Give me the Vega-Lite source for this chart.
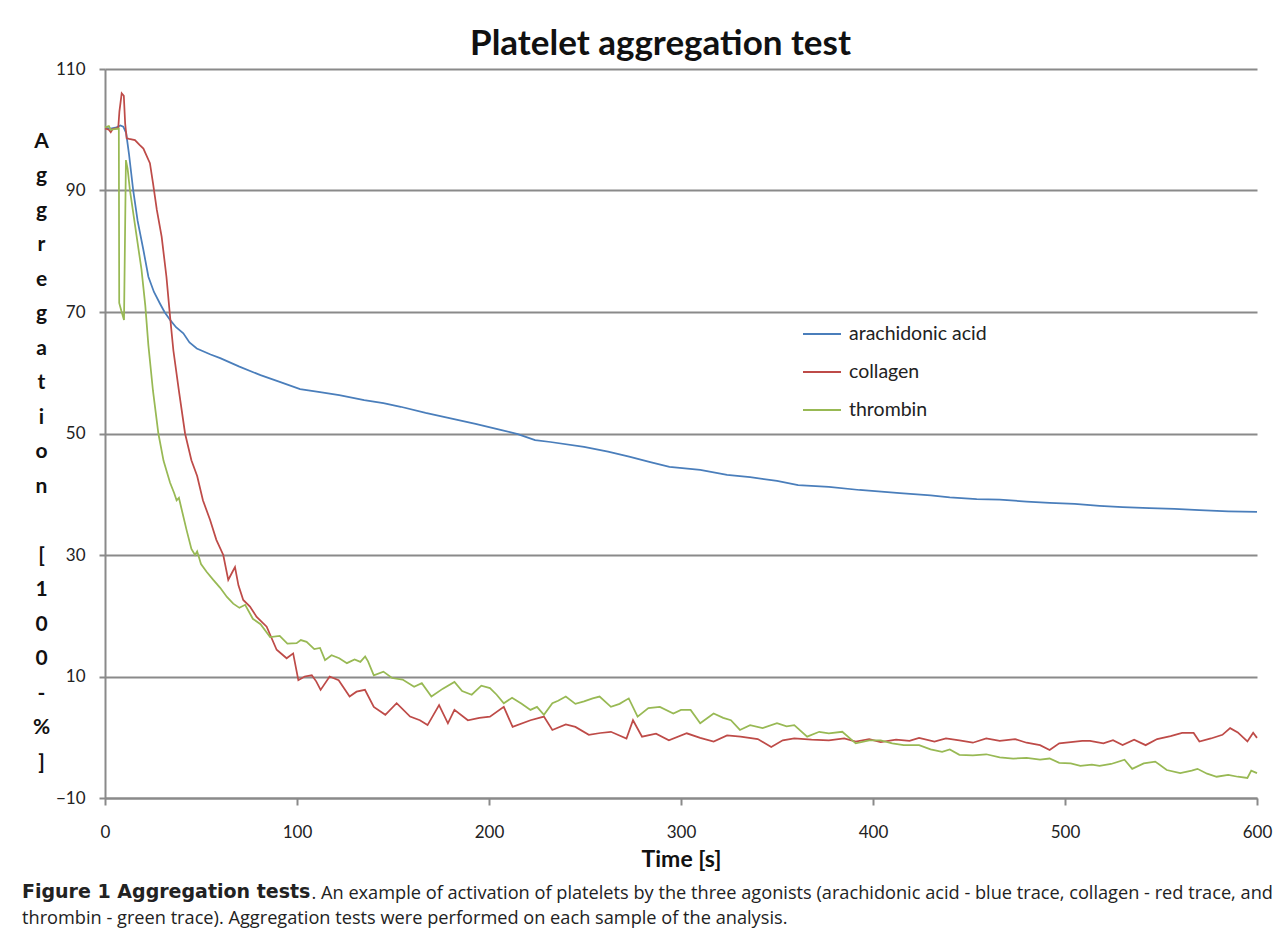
{
"$schema": "https://vega.github.io/schema/vega-lite/v6.json",
"width": 1152, "height": 729,
"autosize": {"type": "none"},
"padding": {"left": 105, "top": 69, "right": 25, "bottom": 141},
"background": "white",
"config": {"view": {"stroke": null}, "font": "Lato"},
"title": {"text": "Figure 1 Aggregation tests", "subtitle": "thrombin - green trace). Aggregation tests were performed on each sample of the analysis.", "orient": "bottom", "anchor": "start", "frame": "group", "dx": -83, "offset": -18, "baseline": "top", "font": "DejaVu Sans", "fontSize": 19, "fontWeight": "bold", "color": "#222", "subtitleFont": "Open Sans", "subtitleFontSize": 18.2, "subtitleFontWeight": "normal", "subtitleColor": "#222", "subtitlePadding": 8, "limit": 2000},
"datasets": {"traces": [
{"s":"arachidonic acid","t":0,"v":100.3},{"s":"arachidonic acid","t":3,"v":100.2},{"s":"arachidonic acid","t":6,"v":100.4},{"s":"arachidonic acid","t":8,"v":100.7},{"s":"arachidonic acid","t":9.5,"v":100.5},{"s":"arachidonic acid","t":11,"v":99.5},{"s":"arachidonic acid","t":12.5,"v":96},{"s":"arachidonic acid","t":14.7,"v":90},{"s":"arachidonic acid","t":17,"v":85},{"s":"arachidonic acid","t":20,"v":80.2},{"s":"arachidonic acid","t":22.6,"v":75.8},{"s":"arachidonic acid","t":25.5,"v":73.3},{"s":"arachidonic acid","t":28.6,"v":71.4},{"s":"arachidonic acid","t":31,"v":70},{"s":"arachidonic acid","t":33.9,"v":68.7},{"s":"arachidonic acid","t":37,"v":67.5},{"s":"arachidonic acid","t":40.8,"v":66.5},{"s":"arachidonic acid","t":44,"v":65},{"s":"arachidonic acid","t":47.8,"v":64},{"s":"arachidonic acid","t":55,"v":63},{"s":"arachidonic acid","t":60,"v":62.4},{"s":"arachidonic acid","t":70,"v":61},{"s":"arachidonic acid","t":81,"v":59.6},{"s":"arachidonic acid","t":91,"v":58.5},{"s":"arachidonic acid","t":101.6,"v":57.3},{"s":"arachidonic acid","t":112,"v":56.8},{"s":"arachidonic acid","t":122,"v":56.3},{"s":"arachidonic acid","t":135,"v":55.5},{"s":"arachidonic acid","t":145,"v":55},{"s":"arachidonic acid","t":154,"v":54.4},{"s":"arachidonic acid","t":167,"v":53.4},{"s":"arachidonic acid","t":180,"v":52.5},{"s":"arachidonic acid","t":193,"v":51.6},{"s":"arachidonic acid","t":206,"v":50.6},{"s":"arachidonic acid","t":215,"v":49.9},{"s":"arachidonic acid","t":224,"v":48.9},{"s":"arachidonic acid","t":232,"v":48.6},{"s":"arachidonic acid","t":249.5,"v":47.8},{"s":"arachidonic acid","t":262,"v":47},{"s":"arachidonic acid","t":273,"v":46.2},{"s":"arachidonic acid","t":284,"v":45.3},{"s":"arachidonic acid","t":294,"v":44.5},{"s":"arachidonic acid","t":310,"v":44},{"s":"arachidonic acid","t":324,"v":43.2},{"s":"arachidonic acid","t":336,"v":42.8},{"s":"arachidonic acid","t":350,"v":42.2},{"s":"arachidonic acid","t":361,"v":41.5},{"s":"arachidonic acid","t":377,"v":41.2},{"s":"arachidonic acid","t":393,"v":40.7},{"s":"arachidonic acid","t":414,"v":40.2},{"s":"arachidonic acid","t":430,"v":39.8},{"s":"arachidonic acid","t":440,"v":39.5},{"s":"arachidonic acid","t":454,"v":39.2},{"s":"arachidonic acid","t":466,"v":39.1},{"s":"arachidonic acid","t":480,"v":38.8},{"s":"arachidonic acid","t":492,"v":38.6},{"s":"arachidonic acid","t":505,"v":38.4},{"s":"arachidonic acid","t":518,"v":38.1},{"s":"arachidonic acid","t":530,"v":37.9},{"s":"arachidonic acid","t":544,"v":37.7},{"s":"arachidonic acid","t":557,"v":37.6},{"s":"arachidonic acid","t":570,"v":37.4},{"s":"arachidonic acid","t":585,"v":37.2},{"s":"arachidonic acid","t":600,"v":37.1},
{"s":"collagen","t":0,"v":100.2},{"s":"collagen","t":2,"v":100},{"s":"collagen","t":3,"v":99.6},{"s":"collagen","t":4,"v":100.1},{"s":"collagen","t":6.9,"v":100.3},{"s":"collagen","t":7.5,"v":103},{"s":"collagen","t":8.7,"v":106},{"s":"collagen","t":9.8,"v":105.6},{"s":"collagen","t":10.5,"v":101},{"s":"collagen","t":11.3,"v":98.6},{"s":"collagen","t":12.6,"v":98.5},{"s":"collagen","t":15.6,"v":98.3},{"s":"collagen","t":18,"v":97.5},{"s":"collagen","t":20,"v":96.9},{"s":"collagen","t":23.4,"v":94.5},{"s":"collagen","t":25,"v":91.2},{"s":"collagen","t":27,"v":86.8},{"s":"collagen","t":29.5,"v":82.4},{"s":"collagen","t":32,"v":75.8},{"s":"collagen","t":33.9,"v":69.2},{"s":"collagen","t":35.6,"v":63.7},{"s":"collagen","t":38.5,"v":57},{"s":"collagen","t":41.7,"v":50},{"s":"collagen","t":45,"v":45.6},{"s":"collagen","t":48,"v":43},{"s":"collagen","t":51,"v":39},{"s":"collagen","t":54.7,"v":35.8},{"s":"collagen","t":58,"v":32.5},{"s":"collagen","t":61.6,"v":30},{"s":"collagen","t":64.2,"v":25.9},{"s":"collagen","t":66,"v":27},{"s":"collagen","t":67.7,"v":28},{"s":"collagen","t":69.5,"v":25},{"s":"collagen","t":72,"v":22.6},{"s":"collagen","t":75.5,"v":21.5},{"s":"collagen","t":79,"v":19.8},{"s":"collagen","t":84.2,"v":18.2},{"s":"collagen","t":89.4,"v":14.4},{"s":"collagen","t":94.6,"v":13},{"s":"collagen","t":98,"v":13.8},{"s":"collagen","t":100.7,"v":9.4},{"s":"collagen","t":104,"v":10},{"s":"collagen","t":107.7,"v":10.2},{"s":"collagen","t":110,"v":9.2},{"s":"collagen","t":112.3,"v":7.8},{"s":"collagen","t":117,"v":10},{"s":"collagen","t":121.7,"v":9.4},{"s":"collagen","t":127.4,"v":6.7},{"s":"collagen","t":131,"v":7.5},{"s":"collagen","t":135.4,"v":7.8},{"s":"collagen","t":140,"v":5},{"s":"collagen","t":146,"v":3.7},{"s":"collagen","t":151.9,"v":5.6},{"s":"collagen","t":158.9,"v":3.4},{"s":"collagen","t":164,"v":2.8},{"s":"collagen","t":168,"v":2},{"s":"collagen","t":174,"v":5.3},{"s":"collagen","t":178.6,"v":2.3},{"s":"collagen","t":182,"v":4.5},{"s":"collagen","t":189,"v":2.8},{"s":"collagen","t":195,"v":3.2},{"s":"collagen","t":200.5,"v":3.4},{"s":"collagen","t":207.7,"v":5},{"s":"collagen","t":212.3,"v":1.7},{"s":"collagen","t":221.6,"v":2.8},{"s":"collagen","t":228.6,"v":3.4},{"s":"collagen","t":233,"v":1.2},{"s":"collagen","t":240,"v":2.1},{"s":"collagen","t":245,"v":1.7},{"s":"collagen","t":252,"v":0.4},{"s":"collagen","t":258,"v":0.7},{"s":"collagen","t":263.5,"v":0.9},{"s":"collagen","t":271.6,"v":-0.2},{"s":"collagen","t":275,"v":2.8},{"s":"collagen","t":279.7,"v":0.1},{"s":"collagen","t":287,"v":0.6},{"s":"collagen","t":293.7,"v":-0.5},{"s":"collagen","t":303,"v":0.65},{"s":"collagen","t":310,"v":-0.1},{"s":"collagen","t":317,"v":-0.7},{"s":"collagen","t":324,"v":0.3},{"s":"collagen","t":331,"v":0.1},{"s":"collagen","t":340,"v":-0.3},{"s":"collagen","t":347,"v":-1.6},{"s":"collagen","t":353,"v":-0.5},{"s":"collagen","t":359,"v":-0.2},{"s":"collagen","t":368,"v":-0.4},{"s":"collagen","t":377,"v":-0.5},{"s":"collagen","t":385,"v":-0.2},{"s":"collagen","t":391,"v":-0.7},{"s":"collagen","t":398,"v":-0.3},{"s":"collagen","t":404,"v":-0.8},{"s":"collagen","t":412,"v":-0.4},{"s":"collagen","t":419,"v":-0.6},{"s":"collagen","t":424,"v":-0.1},{"s":"collagen","t":432,"v":-0.7},{"s":"collagen","t":438,"v":-0.2},{"s":"collagen","t":445,"v":-0.5},{"s":"collagen","t":452,"v":-0.9},{"s":"collagen","t":459,"v":-0.2},{"s":"collagen","t":466,"v":-0.6},{"s":"collagen","t":474,"v":-0.3},{"s":"collagen","t":480,"v":-0.9},{"s":"collagen","t":487,"v":-1.3},{"s":"collagen","t":492,"v":-2.1},{"s":"collagen","t":497,"v":-1},{"s":"collagen","t":503,"v":-0.8},{"s":"collagen","t":509,"v":-0.6},{"s":"collagen","t":513,"v":-0.6},{"s":"collagen","t":520,"v":-1},{"s":"collagen","t":525,"v":-0.5},{"s":"collagen","t":530,"v":-1.3},{"s":"collagen","t":536,"v":-0.4},{"s":"collagen","t":542,"v":-1.3},{"s":"collagen","t":548,"v":-0.3},{"s":"collagen","t":555,"v":0.2},{"s":"collagen","t":561,"v":0.7},{"s":"collagen","t":567,"v":0.7},{"s":"collagen","t":570,"v":-0.7},{"s":"collagen","t":576,"v":-0.2},{"s":"collagen","t":582,"v":0.4},{"s":"collagen","t":586,"v":1.5},{"s":"collagen","t":590,"v":0.8},{"s":"collagen","t":595,"v":-0.7},{"s":"collagen","t":598,"v":0.75},{"s":"collagen","t":600,"v":-0.1},
{"s":"thrombin","t":0,"v":100.4},{"s":"thrombin","t":2,"v":100.6},{"s":"thrombin","t":3,"v":100},{"s":"thrombin","t":5,"v":100.1},{"s":"thrombin","t":7.2,"v":100.2},{"s":"thrombin","t":7.4,"v":71.5},{"s":"thrombin","t":8.5,"v":70.2},{"s":"thrombin","t":9.9,"v":68.7},{"s":"thrombin","t":10.9,"v":95},{"s":"thrombin","t":11.8,"v":93.5},{"s":"thrombin","t":13,"v":90},{"s":"thrombin","t":16.5,"v":82.4},{"s":"thrombin","t":19,"v":77},{"s":"thrombin","t":21,"v":71},{"s":"thrombin","t":22.6,"v":64.5},{"s":"thrombin","t":25,"v":57},{"s":"thrombin","t":27.8,"v":50},{"s":"thrombin","t":30.5,"v":45.5},{"s":"thrombin","t":33.9,"v":41.9},{"s":"thrombin","t":36,"v":40.2},{"s":"thrombin","t":37.3,"v":39},{"s":"thrombin","t":38.5,"v":39.4},{"s":"thrombin","t":40,"v":37.4},{"s":"thrombin","t":42.5,"v":34.1},{"s":"thrombin","t":45,"v":31},{"s":"thrombin","t":46.9,"v":30},{"s":"thrombin","t":48,"v":30.6},{"s":"thrombin","t":50,"v":28.5},{"s":"thrombin","t":53,"v":27.2},{"s":"thrombin","t":56.4,"v":25.9},{"s":"thrombin","t":60,"v":24.6},{"s":"thrombin","t":63.5,"v":23.1},{"s":"thrombin","t":66.8,"v":22},{"s":"thrombin","t":70,"v":21.3},{"s":"thrombin","t":73,"v":21.8},{"s":"thrombin","t":77,"v":19.5},{"s":"thrombin","t":81,"v":18.6},{"s":"thrombin","t":86,"v":16.5},{"s":"thrombin","t":91,"v":16.7},{"s":"thrombin","t":95,"v":15.4},{"s":"thrombin","t":99.8,"v":15.5},{"s":"thrombin","t":102,"v":16},{"s":"thrombin","t":105,"v":15.7},{"s":"thrombin","t":109,"v":14.5},{"s":"thrombin","t":112,"v":14.7},{"s":"thrombin","t":114.6,"v":12.7},{"s":"thrombin","t":118,"v":13.5},{"s":"thrombin","t":122,"v":13},{"s":"thrombin","t":126,"v":12.2},{"s":"thrombin","t":130,"v":12.8},{"s":"thrombin","t":133,"v":12.4},{"s":"thrombin","t":135.5,"v":13.3},{"s":"thrombin","t":137,"v":12.5},{"s":"thrombin","t":140,"v":10.2},{"s":"thrombin","t":145,"v":10.8},{"s":"thrombin","t":149.5,"v":9.75},{"s":"thrombin","t":155,"v":9.5},{"s":"thrombin","t":161,"v":8.3},{"s":"thrombin","t":165,"v":8.9},{"s":"thrombin","t":170,"v":6.7},{"s":"thrombin","t":176,"v":8},{"s":"thrombin","t":182,"v":9.1},{"s":"thrombin","t":186,"v":7.6},{"s":"thrombin","t":191,"v":7},{"s":"thrombin","t":196,"v":8.5},{"s":"thrombin","t":200.5,"v":8.1},{"s":"thrombin","t":204,"v":7},{"s":"thrombin","t":207.7,"v":5.6},{"s":"thrombin","t":212,"v":6.5},{"s":"thrombin","t":217,"v":5.5},{"s":"thrombin","t":221.6,"v":4.5},{"s":"thrombin","t":225,"v":5},{"s":"thrombin","t":228.6,"v":3.7},{"s":"thrombin","t":233,"v":5.6},{"s":"thrombin","t":236,"v":6},{"s":"thrombin","t":240,"v":6.7},{"s":"thrombin","t":245,"v":5.5},{"s":"thrombin","t":249.5,"v":5.9},{"s":"thrombin","t":254,"v":6.4},{"s":"thrombin","t":257.6,"v":6.7},{"s":"thrombin","t":263.5,"v":5},{"s":"thrombin","t":268,"v":5.5},{"s":"thrombin","t":272.8,"v":6.4},{"s":"thrombin","t":277.4,"v":3.4},{"s":"thrombin","t":283,"v":4.8},{"s":"thrombin","t":289,"v":5},{"s":"thrombin","t":296,"v":3.9},{"s":"thrombin","t":300,"v":4.5},{"s":"thrombin","t":305,"v":4.5},{"s":"thrombin","t":310,"v":2.3},{"s":"thrombin","t":317,"v":3.9},{"s":"thrombin","t":322,"v":3.2},{"s":"thrombin","t":326,"v":2.8},{"s":"thrombin","t":330.7,"v":1.2},{"s":"thrombin","t":336,"v":2},{"s":"thrombin","t":342.5,"v":1.5},{"s":"thrombin","t":350,"v":2.3},{"s":"thrombin","t":355,"v":1.8},{"s":"thrombin","t":359,"v":2},{"s":"thrombin","t":365.7,"v":0.1},{"s":"thrombin","t":372,"v":0.9},{"s":"thrombin","t":377,"v":0.65},{"s":"thrombin","t":384,"v":0.9},{"s":"thrombin","t":391,"v":-1},{"s":"thrombin","t":398,"v":-0.5},{"s":"thrombin","t":404,"v":-0.5},{"s":"thrombin","t":410,"v":-1},{"s":"thrombin","t":416,"v":-1.3},{"s":"thrombin","t":424,"v":-1.3},{"s":"thrombin","t":430,"v":-2},{"s":"thrombin","t":436,"v":-2.4},{"s":"thrombin","t":440,"v":-2},{"s":"thrombin","t":445,"v":-2.9},{"s":"thrombin","t":452,"v":-3},{"s":"thrombin","t":459,"v":-2.8},{"s":"thrombin","t":466,"v":-3.3},{"s":"thrombin","t":473,"v":-3.5},{"s":"thrombin","t":480,"v":-3.4},{"s":"thrombin","t":487,"v":-3.7},{"s":"thrombin","t":492,"v":-3.5},{"s":"thrombin","t":497,"v":-4.2},{"s":"thrombin","t":503,"v":-4.3},{"s":"thrombin","t":508,"v":-4.7},{"s":"thrombin","t":514,"v":-4.5},{"s":"thrombin","t":518,"v":-4.7},{"s":"thrombin","t":524,"v":-4.4},{"s":"thrombin","t":531,"v":-3.7},{"s":"thrombin","t":535,"v":-5.2},{"s":"thrombin","t":541,"v":-4.3},{"s":"thrombin","t":547,"v":-4},{"s":"thrombin","t":553,"v":-5.4},{"s":"thrombin","t":560,"v":-5.9},{"s":"thrombin","t":566,"v":-5.5},{"s":"thrombin","t":569,"v":-5.2},{"s":"thrombin","t":574,"v":-6},{"s":"thrombin","t":579,"v":-6.5},{"s":"thrombin","t":585,"v":-6.2},{"s":"thrombin","t":590,"v":-6.5},{"s":"thrombin","t":595,"v":-6.7},{"s":"thrombin","t":597,"v":-5.5},{"s":"thrombin","t":600,"v":-5.9}
]},
"data": {"name": "traces"},
"layer": [
{
"transform": [{"filter": "datum.s === 'arachidonic acid'"}],
"mark": {"type": "line", "strokeWidth": 1.75},
"encoding": {
"x": {"field": "t", "type": "quantitative", "scale": {"domain": [0, 600], "nice": false},
"axis": {"orient": "bottom", "values": [0,100,200,300,400,500,600], "grid": false, "domainColor": "#8a8a8a", "domainWidth": 2, "tickColor": "#8a8a8a", "tickWidth": 2, "tickSize": 7, "labelFont": "Lato", "labelFontSize": 17, "labelColor": "#222", "labelPadding": 19, "labelFlush": false, "title": "Time [s]", "titleFont": "Lato", "titleFontSize": 23, "titleFontWeight": "bold", "titleColor": "#111", "titleBaseline": "alphabetic", "titleY": 68, "titleX": 576, "titleAlign": "center"}},
"y": {"field": "v", "type": "quantitative", "scale": {"domain": [-10, 110], "nice": false, "zero": false},
"axis": {"orient": "left", "values": [-10,10,30,50,70,90,110], "grid": true, "gridColor": "#8a8a8a", "gridWidth": 2, "domainColor": "#8a8a8a", "domainWidth": 2, "tickColor": "#8a8a8a", "tickWidth": 2, "tickSize": 6, "labelFont": "Lato", "labelFontSize": 17, "labelColor": "#222", "labelPadding": 14,
"title": ["A","g","g","r","e","g","a","t","i","o","n","\u2800","[","1","0","0","-","%","]"], "titleFont": "Lato", "titleFontSize": 21, "titleFontWeight": "bold", "titleColor": "#111", "titleAngle": 0, "titleAlign": "center", "titleBaseline": "top", "titleX": -64, "titleY": 61, "titleLineHeight": 34.5}},
"color": {"field": "s", "type": "nominal", "scale": {"domain": ["arachidonic acid","collagen","thrombin"], "range": ["#4A7EBB","#BE4B48","#98B954"]},
"legend": {"orient": "none", "legendX": 697, "legendY": 245, "title": null, "symbolType": "stroke", "symbolSize": 1444, "symbolStrokeWidth": 2, "labelFont": "Lato", "labelFontSize": 19.5, "labelColor": "#222", "labelOffset": 7, "rowPadding": 8}}
}
},
{
"transform": [{"filter": "datum.s === 'collagen'"}],
"mark": {"type": "line", "strokeWidth": 1.75},
"encoding": {
"x": {"field": "t", "type": "quantitative", "axis": {"orient": "top", "domain": false, "ticks": false, "labels": false, "grid": false, "title": "Platelet aggregation test", "titleFont": "Lato", "titleFontSize": 35, "titleFontWeight": "bold", "titleColor": "#111", "titleAngle": 0, "titleAlign": "center", "titleBaseline": "alphabetic", "titleX": 555, "titleY": -15, "titleLimit": 2000}},
"y": {"field": "v", "type": "quantitative", "axis": {"orient": "right", "domain": false, "ticks": false, "labels": false, "grid": false, "title": ". An example of activation of platelets by the three agonists (arachidonic acid - blue trace, collagen - red trace, and", "titleFont": "Open Sans", "titleFontSize": 18.2, "titleFontWeight": "normal", "titleColor": "#222", "titleAngle": 0, "titleAlign": "left", "titleBaseline": "alphabetic", "titleX": -946, "titleY": 829, "titleLimit": 2000}},
"color": {"field": "s", "type": "nominal"}
}
},
{
"transform": [{"filter": "datum.s === 'thrombin'"}],
"mark": {"type": "line", "strokeWidth": 1.75},
"encoding": {
"x": {"field": "t", "type": "quantitative", "axis": null},
"y": {"field": "v", "type": "quantitative", "axis": null},
"color": {"field": "s", "type": "nominal"}
}
}
],
"resolve": {"axis": {"x": "independent", "y": "independent"}}
}
